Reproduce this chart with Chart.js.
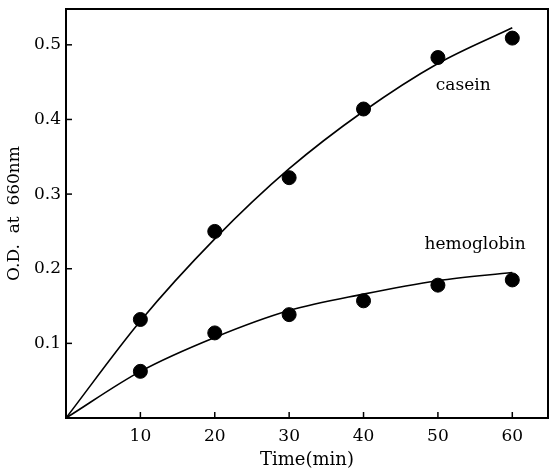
<!DOCTYPE html>
<html>
<head>
<meta charset="utf-8">
<script src="https://cdn.jsdelivr.net/npm/chart.js@4"></script>
<style>
  html, body { margin: 0; padding: 0; background: #fff; }
  #wrap { width: 550px; height: 471px; }
</style>
</head>
<body>
<div id="wrap"><canvas id="odChart"></canvas></div>
<script>
// measured points (min, O.D.)
const times = [10, 20, 30, 40, 50, 60];
const caseinOD = [0.132, 0.250, 0.322, 0.414, 0.483, 0.509];
const hemoglobinOD = [0.0625, 0.114, 0.1385, 0.157, 0.178, 0.185];

// fitted curves as drawn in the figure
const curveTimes = [0, 10, 20, 30, 40, 50, 60];
const caseinFit = [0, 0.13, 0.24, 0.334, 0.411, 0.475, 0.523];
const hemoglobinFit = [0, 0.0625, 0.108, 0.144, 0.166, 0.184, 0.195];

const xTicks = [10, 20, 30, 40, 50, 60];
const yTicks = [0.1, 0.2, 0.3, 0.4, 0.5];

const seriesNames = ["casein", "hemoglobin"];

const FONT = "'DejaVu Serif', serif";

function pairs(xs, ys) {
  return xs.map((x, i) => ({ x: x, y: ys[i] }));
}

// draws the box, the inward tick marks and the curve labels
const framePlugin = {
  id: "frame",
  afterDatasetsDraw(chart) {
    const ctx = chart.ctx;
    const a = chart.chartArea;
    const xs = chart.scales.x;
    const ys = chart.scales.y;
    ctx.save();
    ctx.strokeStyle = "#000";
    ctx.lineWidth = 2;
    ctx.beginPath();
    ctx.moveTo(a.left, a.top);
    ctx.lineTo(a.right, a.top);
    ctx.lineTo(a.right, a.bottom);
    ctx.stroke();

    ctx.lineWidth = 1.5;
    xTicks.forEach((v) => {
      const px = xs.getPixelForValue(v);
      ctx.beginPath();
      ctx.moveTo(px, a.bottom);
      ctx.lineTo(px, a.bottom - 6);
      ctx.stroke();
    });
    yTicks.forEach((v) => {
      const py = ys.getPixelForValue(v);
      ctx.beginPath();
      ctx.moveTo(a.left, py);
      ctx.lineTo(a.left + 6, py);
      ctx.stroke();
    });

    ctx.fillStyle = "#000";
    ctx.font = "17px " + FONT;
    ctx.textAlign = "center";
    ctx.textBaseline = "middle";
    ctx.fillText(seriesNames[0], xs.getPixelForValue(53.4), ys.getPixelForValue(0.446));
    ctx.fillText(seriesNames[1], xs.getPixelForValue(55.0), ys.getPixelForValue(0.232));
    ctx.restore();
  },
};

var ctx = document.getElementById("odChart").getContext("2d");
var odChart = new Chart(ctx, {
  type: "scatter",
  data: {
    datasets: [
      {
        label: "casein",
        data: pairs(times, caseinOD),
        showLine: false,
        pointRadius: 7,
        pointBackgroundColor: "#000",
        pointBorderColor: "#000",
        order: 0,
      },
      {
        label: "hemoglobin",
        data: pairs(times, hemoglobinOD),
        showLine: false,
        pointRadius: 7,
        pointBackgroundColor: "#000",
        pointBorderColor: "#000",
        order: 0,
      },
      {
        label: "casein fit",
        data: pairs(curveTimes, caseinFit),
        showLine: true,
        pointRadius: 0,
        borderColor: "#000",
        borderWidth: 1.6,
        cubicInterpolationMode: "monotone",
        order: 1,
      },
      {
        label: "hemoglobin fit",
        data: pairs(curveTimes, hemoglobinFit),
        showLine: true,
        pointRadius: 0,
        borderColor: "#000",
        borderWidth: 1.6,
        cubicInterpolationMode: "monotone",
        order: 1,
      },
    ],
  },
  options: {
    responsive: true,
    maintainAspectRatio: false,
    animation: false,
    layout: { autoPadding: false, padding: { top: 9, right: 2, left: 0, bottom: 0 } },
    plugins: {
      legend: { display: false },
      tooltip: { enabled: false },
    },
    scales: {
      x: {
        type: "linear",
        min: 0,
        max: 64.8,
        afterBuildTicks: (s) => { s.ticks = xTicks.map((v) => ({ value: v })); },
        afterFit: (s) => {
          s.height = 53;
          s.paddingLeft = 0;
          s.paddingRight = 0;
        },
        ticks: {
          color: "#000",
          font: { family: FONT, size: 17 },
          padding: 8,
          maxRotation: 0,
          autoSkip: false,
        },
        grid: { display: false, drawTicks: false },
        border: { display: true, color: "#000", width: 2 },
        title: {
          display: true,
          text: "Time(min)",
          color: "#000",
          font: { family: FONT, size: 18 },
          padding: { top: 0, bottom: 0 },
        },
      },
      y: {
        type: "linear",
        min: 0,
        max: 0.548,
        afterBuildTicks: (s) => { s.ticks = yTicks.map((v) => ({ value: v })); },
        afterFit: (s) => {
          s.width = 66;
          s.paddingTop = 0;
          s.paddingBottom = 0;
        },
        ticks: {
          color: "#000",
          font: { family: FONT, size: 17 },
          padding: 5,
          callback: (v) => v.toFixed(1),
        },
        grid: { display: false, drawTicks: false },
        border: { display: true, color: "#000", width: 2 },
        title: {
          display: true,
          text: "O.D.  at  660nm",
          color: "#000",
          font: { family: FONT, size: 17 },
          padding: { top: 4, bottom: 0 },
        },
      },
    },
  },
  plugins: [framePlugin],
});
</script>
</body>
</html>
